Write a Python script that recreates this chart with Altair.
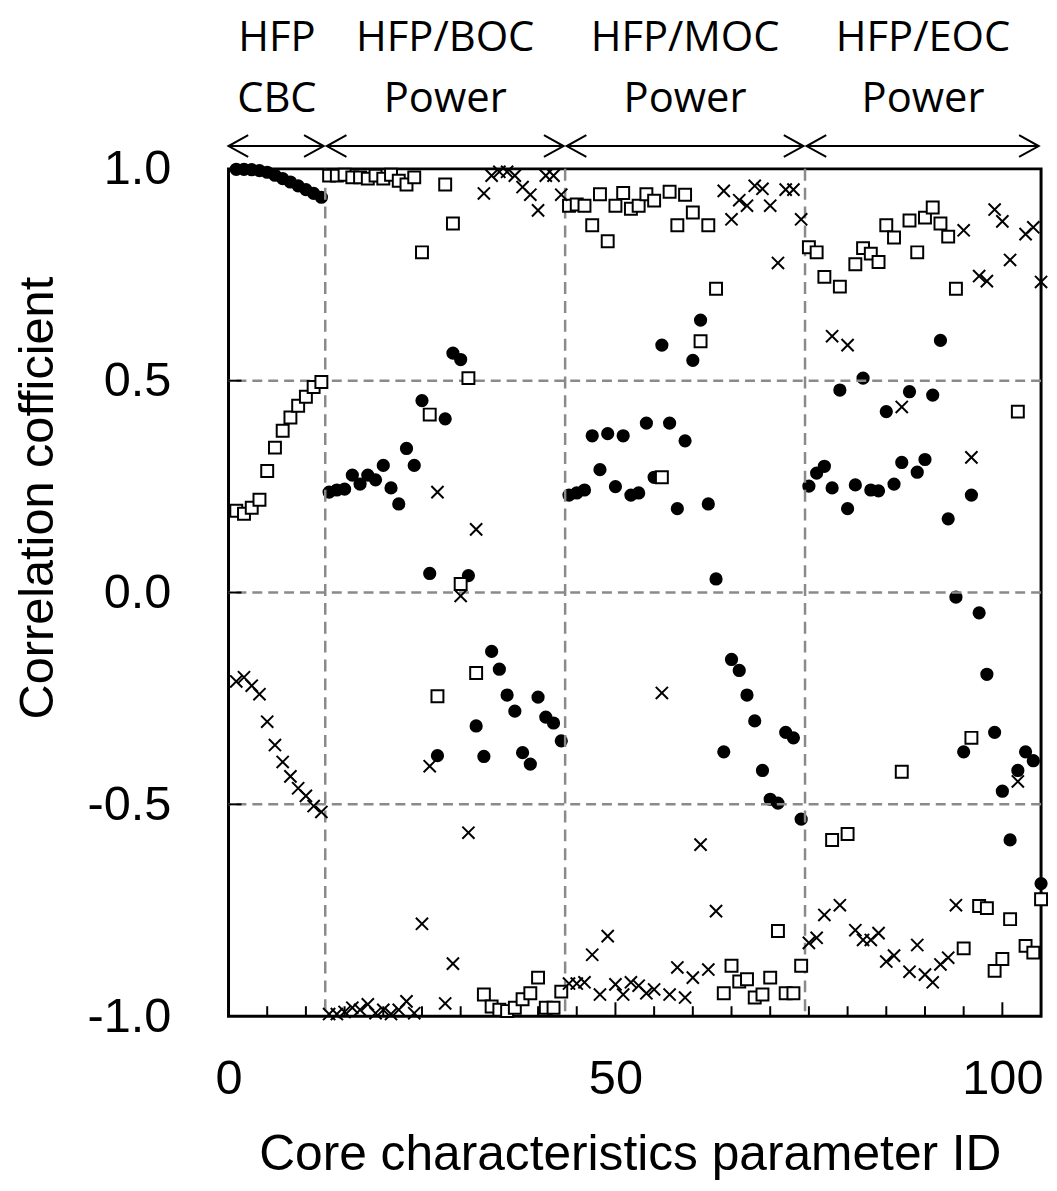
import altair as alt
import pandas as pd

# ---------------- data ----------------
ids = list(range(1, 106))

circle_vals = [
    # HFP CBC (1-12)
    0.999, 0.999, 0.998, 0.996, 0.992, 0.985, 0.977, 0.969, 0.960, 0.951, 0.942, 0.933,
    # HFP/BOC Power (13-43)
    0.237, 0.242, 0.244, 0.277, 0.256, 0.277, 0.266, 0.300, 0.247, 0.209, 0.340, 0.300,
    0.453, 0.045, -0.385, 0.410, 0.565, 0.550, 0.040, -0.315, -0.387, -0.139, -0.181,
    -0.242, -0.280, -0.378, -0.405, -0.247, -0.294, -0.308, -0.350,
    # HFP/MOC Power (44-74)
    0.230, 0.235, 0.242, 0.370, 0.290, 0.375, 0.250, 0.370, 0.230, 0.235, 0.400, 0.272,
    0.584, 0.400, 0.198, 0.358, 0.548, 0.643, 0.209, 0.032, -0.376, -0.158, -0.184,
    -0.242, -0.303, -0.420, -0.488, -0.497, -0.330, -0.343, -0.535,
    # HFP/EOC Power (75-105)
    0.251, 0.282, 0.298, 0.247, 0.478, 0.198, 0.254, 0.506, 0.242, 0.240, 0.427, 0.256,
    0.307, 0.474, 0.284, 0.314, 0.466, 0.595, 0.174, -0.011, -0.376, 0.230, -0.048,
    -0.193, -0.330, -0.469, -0.584, -0.420, -0.376, -0.397, -0.687,
]

square_vals = [
    0.193, 0.186, 0.200, 0.219, 0.287, 0.342, 0.382, 0.413, 0.441, 0.462, 0.485, 0.497,
    0.984, 0.984, 0.986, 0.980, 0.980, 0.977, 0.984, 0.977, 0.986, 0.972, 0.963, 0.980,
    0.803, 0.420, -0.245, 0.963, 0.871, 0.020, 0.506, -0.190, -0.949, -0.977, -0.985,
    -0.988, -0.980, -0.960, -0.946, -0.909, -0.980, -0.980, -0.942,
    0.913, 0.916, 0.913, 0.867, 0.940, 0.829, 0.913, 0.943, 0.906, 0.913, 0.940, 0.925,
    0.272, 0.946, 0.867, 0.939, 0.897, 0.593, 0.867, 0.717, -0.946, -0.881, -0.918,
    -0.913, -0.956, -0.949, -0.909, -0.799, -0.946, -0.946, -0.881,
    0.815, 0.803, 0.745, -0.584, 0.722, -0.570, 0.775, 0.813, 0.800, 0.780, 0.867, 0.838,
    -0.423, 0.878, 0.803, 0.885, 0.909, 0.871, 0.840, 0.717, -0.840, -0.343, -0.740,
    -0.745, -0.893, -0.865, -0.771, 0.427, -0.834, -0.850, -0.724,
]

cross_vals = [
    -0.210, -0.200, -0.220, -0.240, -0.305, -0.360, -0.400, -0.434, -0.462, -0.480, -0.504, -0.518,
    -0.995, -0.995, -0.990, -0.980, -0.985, -0.972, -0.993, -0.985, -0.995, -0.985, -0.965, -0.993,
    -0.782, -0.410, 0.237, -0.970, -0.876, -0.008, -0.567, 0.149, 0.942, 0.984, 0.993,
    0.993, 0.984, 0.957, 0.939, 0.902, 0.984, 0.984, 0.939,
    -0.923, -0.923, -0.920, -0.855, -0.949, -0.811, -0.925, -0.949, -0.920, -0.928, -0.946, -0.937,
    -0.237, -0.949, -0.885, -0.956, -0.909, -0.595, -0.890, -0.752, 0.948, 0.881, 0.926,
    0.913, 0.960, 0.953, 0.913, 0.778, 0.951, 0.951, 0.881,
    -0.827, -0.815, -0.761, 0.605, -0.738, 0.584, -0.797, -0.820, -0.820, -0.804, -0.871, -0.857,
    0.438, -0.895, -0.832, -0.902, -0.920, -0.878, -0.862, -0.738, 0.855, 0.319, 0.747,
    0.735, 0.904, 0.876, 0.785, -0.446, 0.846, 0.862, 0.733,
]

group_bounds = [0, 12.5, 43.5, 74.5, 105]
group_line1 = ["HFP", "HFP/BOC", "HFP/MOC", "HFP/EOC"]
group_line2 = ["CBC", "Power", "Power", "Power"]
divider_ids = [12.5, 43.5, 74.5]
grid_vals = [-0.5, 0.0, 0.5]
x_tick_labels = [0, 50, 100]
y_tick_labels = [-1.0, -0.5, 0.0, 0.5, 1.0]
x_minor_ticks = [5, 10, 15, 20, 25, 30, 35, 40, 45, 55, 60, 65, 70, 75, 80, 85, 90, 95]
x_major_ticks = [50, 100]
y_inner_ticks = [-0.5, 0.0, 0.5]

# ---------------- layout ----------------
W, H = 818, 853
FONT = "Liberation Sans"
xscale = alt.Scale(domain=[0, 105], nice=False, zero=False)
yscale = alt.Scale(domain=[-1, 1], nice=False, zero=False)

df_c = pd.DataFrame({"id": ids, "r": circle_vals})
df_s = pd.DataFrame({"id": ids, "r": square_vals})
df_x = pd.DataFrame({"id": ids, "r": cross_vals})

x_axis = alt.Axis(values=x_tick_labels, format="d", labelFont=FONT, labelFontSize=49,
                  labelColor="black", labelPadding=78, labelBaseline="alphabetic",
                  labelFlush=False, labelAlign="center",
                  title="Core characteristics parameter ID", titleFont=FONT, titleFontSize=50,
                  titleFontWeight="normal", titleColor="black", titleBaseline="alphabetic",
                  titleY=154, titleX=404, domain=False, ticks=False, grid=False)
y_axis = alt.Axis(values=y_tick_labels,
                  labelExpr="datum.value < 0 ? '-' + format(-datum.value, '.1f') : format(datum.value, '.1f')",
                  labelFont=FONT, labelFontSize=49, labelFlush=False,
                  labelColor="black", labelPadding=58, labelBaseline="middle",
                  title="Correlation cofficient", titleFont=FONT, titleFontSize=49,
                  titleFontWeight="normal", titleColor="black", titleAngle=270,
                  titleAlign="center", titleBaseline="alphabetic", titleX=-177, titleY=331,
                  domain=False, ticks=False, grid=False)


def X(field):
    return alt.X(field, scale=xscale, axis=x_axis)


def Y(field):
    return alt.Y(field, scale=yscale, axis=y_axis)


hgrid = alt.Chart(pd.DataFrame({"v": grid_vals})).mark_rule(
    color="#8a8a8a", strokeWidth=2.5, strokeDash=[10, 6]
).encode(y=Y("v:Q"))

vgrid = alt.Chart(pd.DataFrame({"d": divider_ids})).mark_rule(
    color="#8a8a8a", strokeWidth=2.5, strokeDash=[12, 7]
).encode(x=X("d:Q"))

xt_minor = alt.Chart(pd.DataFrame({"t": x_minor_ticks})).mark_rule(
    color="black", strokeWidth=2
).encode(x=X("t:Q"), y=alt.value(H), y2=alt.value(H - 10))

xt_major = alt.Chart(pd.DataFrame({"t": x_major_ticks})).mark_rule(
    color="black", strokeWidth=2
).encode(x=X("t:Q"), y=alt.value(H), y2=alt.value(H - 14))

yt = alt.Chart(pd.DataFrame({"t": y_inner_ticks})).mark_rule(
    color="black", strokeWidth=2
).encode(y=Y("t:Q"), x=alt.value(0), x2=alt.value(13))

circles = alt.Chart(df_c).mark_point(
    shape="circle", filled=True, color="black", size=177, opacity=1
).encode(x=X("id:Q"), y=Y("r:Q"))

squares = alt.Chart(df_s).mark_point(
    shape="square", filled=True, fill="white", stroke="black", strokeWidth=2,
    size=144, opacity=1, fillOpacity=1, strokeOpacity=1
).encode(x=X("id:Q"), y=Y("r:Q"))

crosses = alt.Chart(df_x).mark_point(
    shape="M-1,-1L1,1M-1,1L1,-1", filled=False, stroke="black", strokeWidth=2,
    size=150, opacity=1
).encode(x=X("id:Q"), y=Y("r:Q"))

# ---------------- top annotations ----------------
gap = 0.2
df_seg = pd.DataFrame({
    "a": [group_bounds[i] + (gap if i > 0 else 0) for i in range(4)],
    "b": [group_bounds[i + 1] - (gap if i < 3 else 0.3) for i in range(4)],
    "c": [(group_bounds[i] + group_bounds[i + 1]) / 2 for i in range(4)],
    "l1": group_line1,
    "l2": group_line2,
})
ARROW_Y = -23

arrow_lines = alt.Chart(df_seg).mark_rule(color="black", strokeWidth=2).encode(
    x=X("a:Q"), x2="b:Q", y=alt.value(ARROW_Y))

head_left = alt.Chart(df_seg).mark_point(
    shape="M1.8,-1L0,0L1.8,1", filled=False, stroke="black", strokeWidth=2,
    size=484, opacity=1
).encode(x=X("a:Q"), y=alt.value(ARROW_Y))

head_right = alt.Chart(df_seg).mark_point(
    shape="M-1.8,-1L0,0L-1.8,1", filled=False, stroke="black", strokeWidth=2,
    size=484, opacity=1
).encode(x=X("b:Q"), y=alt.value(ARROW_Y))

lab1 = alt.Chart(df_seg).mark_text(
    font="Open Sans", fontSize=42, color="black", align="center", baseline="alphabetic"
).encode(x=X("c:Q"), y=alt.value(-119), text="l1:N")

lab2 = alt.Chart(df_seg).mark_text(
    font="Open Sans", fontSize=42, color="black", align="center", baseline="alphabetic"
).encode(x=X("c:Q"), y=alt.value(-57), text="l2:N")

chart = alt.layer(
    circles, hgrid, vgrid, xt_minor, xt_major, yt, squares, crosses,
    arrow_lines, head_left, head_right, lab1, lab2
).properties(
    width=W, height=H,
    autosize=alt.AutoSizeParams(type="none"),
    padding={"left": 222, "top": 158, "right": 8, "bottom": 165},
).configure_view(
    stroke="black", strokeWidth=3
)

chart.save("out.html", embed_options={"renderer": "svg", "actions": False})
